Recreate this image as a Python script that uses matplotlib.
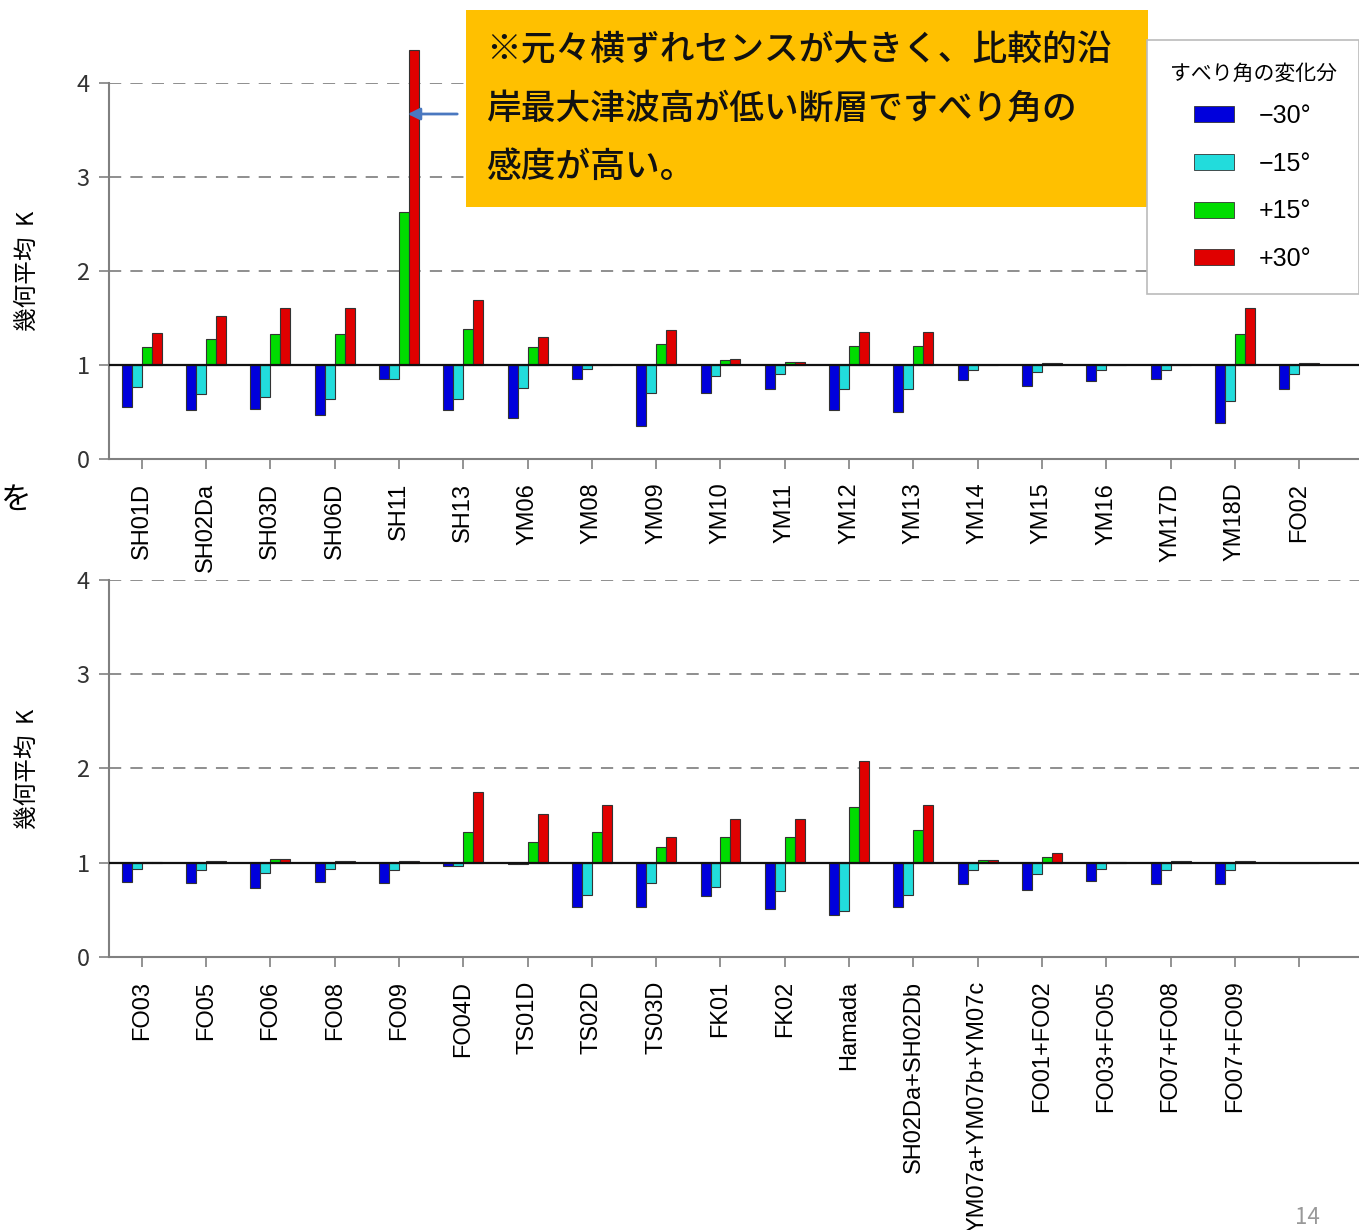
import numpy as np
import matplotlib.pyplot as plt
from matplotlib.patches import Patch, Rectangle

plt.rcParams['font.family'] = ['Noto Sans CJK JP', 'DejaVu Sans']

# faults, upper panel
top_names = ['SH01D', 'SH02Da', 'SH03D', 'SH06D', 'SH11', 'SH13', 'YM06', 'YM08',
             'YM09', 'YM10', 'YM11', 'YM12', 'YM13', 'YM14', 'YM15', 'YM16',
             'YM17D', 'YM18D', 'FO02']
top_m30 = [0.55, 0.52, 0.53, 0.47, 0.855, 0.52, 0.44, 0.855, 0.35, 0.70, 0.75, 0.52,
           0.50, 0.84, 0.78, 0.83, 0.855, 0.38, 0.75]
top_m15 = [0.77, 0.69, 0.66, 0.64, 0.855, 0.64, 0.755, 0.96, 0.70, 0.88, 0.90, 0.75,
           0.75, 0.95, 0.93, 0.95, 0.95, 0.62, 0.90]
top_p15 = [1.19, 1.28, 1.33, 1.33, 2.63, 1.38, 1.19, 1.0, 1.22, 1.05, 1.03, 1.20,
           1.20, 1.0, 1.02, 1.0, 1.0, 1.33, 1.02]
top_p30 = [1.34, 1.52, 1.61, 1.61, 4.35, 1.69, 1.30, 1.0, 1.37, 1.06, 1.03, 1.35,
           1.35, 1.0, 1.02, 1.0, 1.0, 1.61, 1.02]

# faults, lower panel
bot_names = ['FO03', 'FO05', 'FO06', 'FO08', 'FO09', 'FO04D', 'TS01D', 'TS02D',
             'TS03D', 'FK01', 'FK02', 'Hamada', 'SH02Da+SH02Db', 'YM07a+YM07b+YM07c',
             'FO01+FO02', 'FO03+FO05', 'FO07+FO08', 'FO07+FO09', '']
bot_m30 = [0.79, 0.78, 0.73, 0.79, 0.78, 0.97, 0.99, 0.53, 0.53, 0.65, 0.51, 0.45,
           0.53, 0.77, 0.71, 0.81, 0.77, 0.77, 1.0]
bot_m15 = [0.93, 0.92, 0.89, 0.93, 0.92, 0.96, 0.99, 0.66, 0.78, 0.74, 0.70, 0.49,
           0.66, 0.92, 0.88, 0.93, 0.92, 0.92, 1.0]
bot_p15 = [1.01, 1.02, 1.04, 1.02, 1.02, 1.33, 1.22, 1.33, 1.17, 1.27, 1.27, 1.59,
           1.35, 1.025, 1.06, 1.01, 1.02, 1.02, 1.0]
bot_p30 = [1.01, 1.02, 1.04, 1.02, 1.02, 1.75, 1.52, 1.61, 1.27, 1.46, 1.46, 2.08,
           1.61, 1.025, 1.10, 1.01, 1.02, 1.02, 1.0]

labels = ['−30°', '−15°', '+15°', '+30°']
colors = ['#0000DC', '#22DCDC', '#00DC00', '#E00000']

fig = plt.figure(figsize=(13.59, 12.30), dpi=100)
ax1 = fig.add_axes([0.0802, 0.6268, 0.9198, 0.3057])
ax2 = fig.add_axes([0.0802, 0.2220, 0.9198, 0.3065])

w = 0.155
offs = np.array([-1.5, -0.5, 0.5, 1.5]) * w


def panel(ax, names, series):
    x = np.arange(len(names))
    for s, c, o in zip(series, colors, offs):
        v = np.array(s)
        ax.bar(x + o, v - 1, bottom=1, width=w, color=c, edgecolor='#333333',
               linewidth=0.8, clip_on=False, zorder=3)
    ax.set_xlim(-0.51, 18.93)
    ax.set_ylim(0, 4)
    ax.set_yticks([0, 1, 2, 3, 4])
    ax.set_yticklabels(['0', '1', '2', '3', '4'], fontsize=17, color='#333333')
    ax.set_xticks(x)
    ax.set_xticklabels(names, rotation=90, fontsize=17, family='Liberation Sans',
                       va='top', ha='center')
    ax.tick_params(axis='both', direction='out', length=7, color='#808080', width=1.2)
    ax.tick_params(axis='x', pad=10)
    ax.tick_params(axis='y', pad=7)
    for sp in ['top', 'right']:
        ax.spines[sp].set_visible(False)
    for sp in ['left', 'bottom']:
        ax.spines[sp].set_color('#808080')
        ax.spines[sp].set_linewidth(1.5)
    for yv in [2, 3, 4]:
        ax.axhline(yv, color='#707070', lw=1.1, ls=(0, (8, 6)), zorder=1)
    ax.axhline(1, color='#111111', lw=1.6, zorder=4)
    ax.set_ylabel('幾何平均  K', fontsize=17)
    ax.yaxis.set_label_coords(-0.056, 0.5)


panel(ax1, top_names, [top_m30, top_m15, top_p15, top_p30])
panel(ax2, bot_names, [bot_m30, bot_m15, bot_p15, bot_p30])

# note box
fig.patches.append(Rectangle((466 / 1359, 1 - 207 / 1230), (1148 - 466) / 1359,
                             (207 - 10) / 1230, transform=fig.transFigure,
                             facecolor='#FFC000', edgecolor='none', zorder=5))
note = ['※元々横ずれセンスが大きく、比較的沿', '岸最大津波高が低い断層ですべり角の', '感度が高い。']
for i, line in enumerate(note):
    fig.text(486 / 1359, 1 - (51 + 58 * i) / 1230, line, fontsize=25, va='center',
             ha='left', color='#111111', weight='medium', zorder=6)

ax1.annotate('', xy=(405 / 1359, 1 - 114 / 1230), xytext=(460 / 1359, 1 - 114 / 1230),
             xycoords='figure fraction', textcoords='figure fraction',
             arrowprops=dict(arrowstyle='-|>', color='#4A78C0', lw=2, mutation_scale=18))

handles = [Patch(facecolor=c, edgecolor='#333333', linewidth=0.6) for c in colors]
leg = fig.legend(handles, labels, title='すべり角の変化分', loc='upper left',
                 bbox_to_anchor=(1147 / 1359, 1 - 40 / 1230), borderaxespad=0,
                 frameon=True, fancybox=False, edgecolor='#BBBBBB', framealpha=1,
                 title_fontsize=15, handlelength=1.6, handleheight=0.6,
                 labelspacing=0.95, handletextpad=1.0, borderpad=0.9,
                 prop={'family': 'Liberation Sans', 'size': 18})
leg.get_frame().set_linewidth(1.2)
leg._legend_box.sep = 14

fig.text(0.0, 1 - 500 / 1230, 'を', fontsize=22, va='center', ha='left')
fig.text(1307 / 1359, 1 - 1218 / 1230, '14', fontsize=16, color='#999999',
         va='center', ha='center')

fig.savefig('out.png', dpi=100)
